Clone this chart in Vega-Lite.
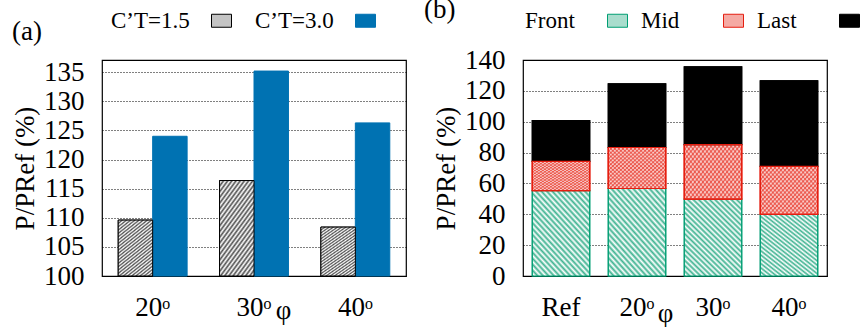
{
 "$schema": "https://vega.github.io/schema/vega-lite/v6.json",
 "padding": {"left": 10, "top": 8, "right": 5, "bottom": 0},
 "background": "white",
 "params": [
  {"name": "gA", "value": {"gradient": "linear", "x1": 0, "y1": 0, "x2": 0.59, "y2": 1.2, "stops": [{"offset":0,"color":"#505050"},{"offset":0.02,"color":"#fff"},{"offset":0.04,"color":"#505050"},{"offset":0.06,"color":"#fff"},{"offset":0.08,"color":"#505050"},{"offset":0.1,"color":"#fff"},{"offset":0.12,"color":"#505050"},{"offset":0.14,"color":"#fff"},{"offset":0.16,"color":"#505050"},{"offset":0.18,"color":"#fff"},{"offset":0.2,"color":"#505050"},{"offset":0.22,"color":"#fff"},{"offset":0.24,"color":"#505050"},{"offset":0.26,"color":"#fff"},{"offset":0.28,"color":"#505050"},{"offset":0.3,"color":"#fff"},{"offset":0.32,"color":"#505050"},{"offset":0.34,"color":"#fff"},{"offset":0.36,"color":"#505050"},{"offset":0.38,"color":"#fff"},{"offset":0.4,"color":"#505050"},{"offset":0.42,"color":"#fff"},{"offset":0.44,"color":"#505050"},{"offset":0.46,"color":"#fff"},{"offset":0.48,"color":"#505050"},{"offset":0.5,"color":"#fff"},{"offset":0.52,"color":"#505050"},{"offset":0.54,"color":"#fff"},{"offset":0.56,"color":"#505050"},{"offset":0.58,"color":"#fff"},{"offset":0.6,"color":"#505050"},{"offset":0.62,"color":"#fff"},{"offset":0.64,"color":"#505050"},{"offset":0.66,"color":"#fff"},{"offset":0.68,"color":"#505050"},{"offset":0.7,"color":"#fff"},{"offset":0.72,"color":"#505050"},{"offset":0.74,"color":"#fff"},{"offset":0.76,"color":"#505050"},{"offset":0.78,"color":"#fff"},{"offset":0.8,"color":"#505050"},{"offset":0.82,"color":"#fff"},{"offset":0.84,"color":"#505050"},{"offset":0.86,"color":"#fff"},{"offset":0.88,"color":"#505050"},{"offset":0.9,"color":"#fff"},{"offset":0.92,"color":"#505050"},{"offset":0.94,"color":"#fff"},{"offset":0.96,"color":"#505050"},{"offset":0.98,"color":"#fff"},{"offset":1,"color":"#505050"}]}},
  {"name": "gG", "value": {"gradient": "linear", "x1": 1, "y1": 0, "x2": 0.176, "y2": 1.128, "stops": [{"offset":0,"color":"#3fb391"},{"offset":0.02,"color":"#fff"},{"offset":0.04,"color":"#3fb391"},{"offset":0.06,"color":"#fff"},{"offset":0.08,"color":"#3fb391"},{"offset":0.1,"color":"#fff"},{"offset":0.12,"color":"#3fb391"},{"offset":0.14,"color":"#fff"},{"offset":0.16,"color":"#3fb391"},{"offset":0.18,"color":"#fff"},{"offset":0.2,"color":"#3fb391"},{"offset":0.22,"color":"#fff"},{"offset":0.24,"color":"#3fb391"},{"offset":0.26,"color":"#fff"},{"offset":0.28,"color":"#3fb391"},{"offset":0.3,"color":"#fff"},{"offset":0.32,"color":"#3fb391"},{"offset":0.34,"color":"#fff"},{"offset":0.36,"color":"#3fb391"},{"offset":0.38,"color":"#fff"},{"offset":0.4,"color":"#3fb391"},{"offset":0.42,"color":"#fff"},{"offset":0.44,"color":"#3fb391"},{"offset":0.46,"color":"#fff"},{"offset":0.48,"color":"#3fb391"},{"offset":0.5,"color":"#fff"},{"offset":0.52,"color":"#3fb391"},{"offset":0.54,"color":"#fff"},{"offset":0.56,"color":"#3fb391"},{"offset":0.58,"color":"#fff"},{"offset":0.6,"color":"#3fb391"},{"offset":0.62,"color":"#fff"},{"offset":0.64,"color":"#3fb391"},{"offset":0.66,"color":"#fff"},{"offset":0.68,"color":"#3fb391"},{"offset":0.7,"color":"#fff"},{"offset":0.72,"color":"#3fb391"},{"offset":0.74,"color":"#fff"},{"offset":0.76,"color":"#3fb391"},{"offset":0.78,"color":"#fff"},{"offset":0.8,"color":"#3fb391"},{"offset":0.82,"color":"#fff"},{"offset":0.84,"color":"#3fb391"},{"offset":0.86,"color":"#fff"},{"offset":0.88,"color":"#3fb391"},{"offset":0.9,"color":"#fff"},{"offset":0.92,"color":"#3fb391"},{"offset":0.94,"color":"#fff"},{"offset":0.96,"color":"#3fb391"},{"offset":0.98,"color":"#fff"},{"offset":1,"color":"#3fb391"}]}},
  {"name": "gR1", "value": {"gradient": "linear", "x1": 1, "y1": 0, "x2": -0.119, "y2": 0.841, "stops": [{"offset":0,"color":"#ef7d74"},{"offset":0.02,"color":"#fff"},{"offset":0.04,"color":"#ef7d74"},{"offset":0.06,"color":"#fff"},{"offset":0.08,"color":"#ef7d74"},{"offset":0.1,"color":"#fff"},{"offset":0.12,"color":"#ef7d74"},{"offset":0.14,"color":"#fff"},{"offset":0.16,"color":"#ef7d74"},{"offset":0.18,"color":"#fff"},{"offset":0.2,"color":"#ef7d74"},{"offset":0.22,"color":"#fff"},{"offset":0.24,"color":"#ef7d74"},{"offset":0.26,"color":"#fff"},{"offset":0.28,"color":"#ef7d74"},{"offset":0.3,"color":"#fff"},{"offset":0.32,"color":"#ef7d74"},{"offset":0.34,"color":"#fff"},{"offset":0.36,"color":"#ef7d74"},{"offset":0.38,"color":"#fff"},{"offset":0.4,"color":"#ef7d74"},{"offset":0.42,"color":"#fff"},{"offset":0.44,"color":"#ef7d74"},{"offset":0.46,"color":"#fff"},{"offset":0.48,"color":"#ef7d74"},{"offset":0.5,"color":"#fff"},{"offset":0.52,"color":"#ef7d74"},{"offset":0.54,"color":"#fff"},{"offset":0.56,"color":"#ef7d74"},{"offset":0.58,"color":"#fff"},{"offset":0.6,"color":"#ef7d74"},{"offset":0.62,"color":"#fff"},{"offset":0.64,"color":"#ef7d74"},{"offset":0.66,"color":"#fff"},{"offset":0.68,"color":"#ef7d74"},{"offset":0.7,"color":"#fff"},{"offset":0.72,"color":"#ef7d74"},{"offset":0.74,"color":"#fff"},{"offset":0.76,"color":"#ef7d74"},{"offset":0.78,"color":"#fff"},{"offset":0.8,"color":"#ef7d74"},{"offset":0.82,"color":"#fff"},{"offset":0.84,"color":"#ef7d74"},{"offset":0.86,"color":"#fff"},{"offset":0.88,"color":"#ef7d74"},{"offset":0.9,"color":"#fff"},{"offset":0.92,"color":"#ef7d74"},{"offset":0.94,"color":"#fff"},{"offset":0.96,"color":"#ef7d74"},{"offset":0.98,"color":"#fff"},{"offset":1,"color":"#ef7d74"}]}},
  {"name": "gR2", "value": {"gradient": "linear", "x1": 0, "y1": 0, "x2": 1.119, "y2": 0.841, "stops": [{"offset":0,"color":"rgba(229,30,16,0.65)"},{"offset":0.02,"color":"rgba(229,30,16,0)"},{"offset":0.04,"color":"rgba(229,30,16,0.65)"},{"offset":0.06,"color":"rgba(229,30,16,0)"},{"offset":0.08,"color":"rgba(229,30,16,0.65)"},{"offset":0.1,"color":"rgba(229,30,16,0)"},{"offset":0.12,"color":"rgba(229,30,16,0.65)"},{"offset":0.14,"color":"rgba(229,30,16,0)"},{"offset":0.16,"color":"rgba(229,30,16,0.65)"},{"offset":0.18,"color":"rgba(229,30,16,0)"},{"offset":0.2,"color":"rgba(229,30,16,0.65)"},{"offset":0.22,"color":"rgba(229,30,16,0)"},{"offset":0.24,"color":"rgba(229,30,16,0.65)"},{"offset":0.26,"color":"rgba(229,30,16,0)"},{"offset":0.28,"color":"rgba(229,30,16,0.65)"},{"offset":0.3,"color":"rgba(229,30,16,0)"},{"offset":0.32,"color":"rgba(229,30,16,0.65)"},{"offset":0.34,"color":"rgba(229,30,16,0)"},{"offset":0.36,"color":"rgba(229,30,16,0.65)"},{"offset":0.38,"color":"rgba(229,30,16,0)"},{"offset":0.4,"color":"rgba(229,30,16,0.65)"},{"offset":0.42,"color":"rgba(229,30,16,0)"},{"offset":0.44,"color":"rgba(229,30,16,0.65)"},{"offset":0.46,"color":"rgba(229,30,16,0)"},{"offset":0.48,"color":"rgba(229,30,16,0.65)"},{"offset":0.5,"color":"rgba(229,30,16,0)"},{"offset":0.52,"color":"rgba(229,30,16,0.65)"},{"offset":0.54,"color":"rgba(229,30,16,0)"},{"offset":0.56,"color":"rgba(229,30,16,0.65)"},{"offset":0.58,"color":"rgba(229,30,16,0)"},{"offset":0.6,"color":"rgba(229,30,16,0.65)"},{"offset":0.62,"color":"rgba(229,30,16,0)"},{"offset":0.64,"color":"rgba(229,30,16,0.65)"},{"offset":0.66,"color":"rgba(229,30,16,0)"},{"offset":0.68,"color":"rgba(229,30,16,0.65)"},{"offset":0.7,"color":"rgba(229,30,16,0)"},{"offset":0.72,"color":"rgba(229,30,16,0.65)"},{"offset":0.74,"color":"rgba(229,30,16,0)"},{"offset":0.76,"color":"rgba(229,30,16,0.65)"},{"offset":0.78,"color":"rgba(229,30,16,0)"},{"offset":0.8,"color":"rgba(229,30,16,0.65)"},{"offset":0.82,"color":"rgba(229,30,16,0)"},{"offset":0.84,"color":"rgba(229,30,16,0.65)"},{"offset":0.86,"color":"rgba(229,30,16,0)"},{"offset":0.88,"color":"rgba(229,30,16,0.65)"},{"offset":0.9,"color":"rgba(229,30,16,0)"},{"offset":0.92,"color":"rgba(229,30,16,0.65)"},{"offset":0.94,"color":"rgba(229,30,16,0)"},{"offset":0.96,"color":"rgba(229,30,16,0.65)"},{"offset":0.98,"color":"rgba(229,30,16,0)"},{"offset":1,"color":"rgba(229,30,16,0.65)"}]}}
 ],
 "spacing": 16,
 "resolve": {"scale": {"stroke": "independent", "fill": "independent"}, "legend": {"stroke": "independent", "fill": "independent"}},
 "hconcat": [
  {
   "width": 304, "height": 216,
   "data": {"values": [
    {"ang": "20", "ct": "1.5", "v": 109.6},
    {"ang": "20", "ct": "3.0", "v": 124.0},
    {"ang": "30", "ct": "1.5", "v": 116.4},
    {"ang": "30", "ct": "3.0", "v": 135.2},
    {"ang": "40", "ct": "1.5", "v": 108.4},
    {"ang": "40", "ct": "3.0", "v": 126.3}
   ]},
   "encoding": {
    "x": {"field": "ang", "type": "nominal", "scale": {"paddingInner": 0.32, "paddingOuter": 0.16},
          "axis": {"title": "φ", "titleX": 181, "titleY": 42, "titleAlign": "center", "titleBaseline": "alphabetic", "titleAngle": 0, "labelExpr": "datum.label + 'ᵒ'", "labelAngle": 0, "labelBaseline": "alphabetic", "labelPadding": 39, "ticks": false, "tickSize": 0, "domain": false, "grid": false}},
    "xOffset": {"field": "ct", "type": "nominal"},
    "y": {"field": "v", "type": "quantitative", "scale": {"domain": [100, 137.1], "nice": false, "zero": false},
          "axis": {"title": "P/PRef (%)", "values": [100, 105, 110, 115, 120, 125, 130, 135], "labelOverlap": false, "grid": true, "ticks": false, "tickSize": 0, "domain": false, "labelPadding": 18, "titleX": -77, "titleY": 108, "titleAngle": 270, "titleAlign": "center", "titleBaseline": "middle"}},
    "y2": {"datum": 100}
   },
   "layer": [
    {
     "mark": {"type": "bar", "strokeWidth": 1},
     "encoding": {
      "fill": {"field": "ct", "type": "nominal", "scale": {"domain": ["1.5", "3.0"], "range": ["#c4c4c4", "#0072b2"]},
               "legend": {"title": "(a)", "titleOrient": "left", "titleFontSize": 27, "titleFont": "Liberation Serif", "titleFontWeight": "normal", "titleColor": "black", "titlePadding": 168, "titleBaseline": "top", "orient": "none", "legendX": -90, "legendY": -51, "direction": "horizontal", "columns": 2, "columnPadding": 21, "padding": 0, "symbolType": "M-1,-0.65H1V0.65H-1Z", "symbolSize": 400, "symbolStrokeWidth": 1, "symbolOpacity": 1, "labelAlign": "left", "labelOffset": -122, "labelExpr": "'C’T=' + datum.label", "labelFontSize": 23,
                          "encode": {"title": {"update": {"dy": {"value": -2}}}}}},
      "stroke": {"field": "ct", "type": "nominal", "scale": {"domain": ["1.5", "3.0"], "range": ["black", "#0072b2"]}}
     }
    },
    {
     "transform": [{"filter": "datum.ct === '1.5'"}],
     "mark": {"type": "bar", "fill": {"expr": "gA"}, "stroke": "black", "strokeWidth": 1}
    }
   ]
  },
  {
   "width": 304, "height": 216,
   "data": {"values": [
    {"cat": "Ref", "part": "Front", "v": 55.4},
    {"cat": "Ref", "part": "Mid", "v": 18.9},
    {"cat": "Ref", "part": "Last", "v": 26.4},
    {"cat": "20", "part": "Front", "v": 56.7},
    {"cat": "20", "part": "Mid", "v": 26.6},
    {"cat": "20", "part": "Last", "v": 41.2},
    {"cat": "30", "part": "Front", "v": 49.8},
    {"cat": "30", "part": "Mid", "v": 35.4},
    {"cat": "30", "part": "Last", "v": 50.3},
    {"cat": "40", "part": "Front", "v": 40.0},
    {"cat": "40", "part": "Mid", "v": 31.1},
    {"cat": "40", "part": "Last", "v": 55.4}
   ]},
   "transform": [{"stack": "v", "groupby": ["cat"], "as": ["v0", "v1"]}],
   "encoding": {
    "x": {"field": "cat", "type": "nominal", "sort": ["Ref", "20", "30", "40"], "scale": {"paddingInner": 0.245, "paddingOuter": 0.1225},
          "axis": {"title": "φ", "titleX": 142, "titleY": 45, "titleAlign": "center", "titleBaseline": "alphabetic", "titleAngle": 0, "labelExpr": "datum.label === 'Ref' ? 'Ref' : datum.label + 'ᵒ'", "labelAngle": 0, "labelBaseline": "alphabetic", "labelPadding": 39, "ticks": false, "tickSize": 0, "domain": false, "grid": false}},
    "y": {"field": "v1", "type": "quantitative", "scale": {"domain": [0, 140], "nice": false},
          "axis": {"title": "P/PRef (%)", "values": [0, 20, 40, 60, 80, 100, 120, 140], "labelOverlap": false, "grid": true, "ticks": false, "tickSize": 0, "domain": false, "labelPadding": 18, "titleX": -77, "titleY": 108, "titleAngle": 270, "titleAlign": "center", "titleBaseline": "middle"}},
    "y2": {"field": "v0"}
   },
   "layer": [
    {
     "mark": {"type": "bar", "strokeWidth": 1.2},
     "encoding": {
      "fill": {"field": "part", "type": "nominal", "scale": {"domain": ["Front", "Mid", "Last"], "range": ["#a9ddcd", "#f5aaa4", "black"]},
               "legend": {"title": "(b)", "titleOrient": "left", "titleFontSize": 27, "titleFont": "Liberation Serif", "titleFontWeight": "normal", "titleColor": "black", "titlePadding": 150, "titleBaseline": "top", "orient": "none", "legendX": -99, "legendY": -51, "direction": "horizontal", "columns": 3, "columnPadding": 11, "padding": 0, "symbolType": "M-1,-0.65H1V0.65H-1Z", "symbolSize": 400, "symbolStrokeWidth": 1, "symbolOpacity": 1, "labelAlign": "left", "labelOffset": -104, "labelFontSize": 23,
                          "encode": {"title": {"update": {"dy": {"value": -24}}}}}},
      "stroke": {"field": "part", "type": "nominal", "scale": {"domain": ["Front", "Mid", "Last"], "range": ["#009e73", "#e51e10", "black"]}}
     }
    },
    {
     "mark": {"type": "bar", "strokeWidth": 1.2},
     "encoding": {
      "fill": {"condition": [{"test": "datum.part === 'Front'", "value": {"expr": "gG"}}, {"test": "datum.part === 'Mid'", "value": {"expr": "gR1"}}], "value": "black"},
      "stroke": {"condition": [{"test": "datum.part === 'Front'", "value": "#009e73"}, {"test": "datum.part === 'Mid'", "value": "#e51e10"}], "value": "black"}
     }
    },
    {
     "transform": [{"filter": "datum.part === 'Mid'"}],
     "mark": {"type": "bar", "fill": {"expr": "gR2"}, "stroke": "#e51e10", "strokeWidth": 1.2}
    }
   ]
  }
 ],
 "config": {
  "font": "Liberation Serif",
  "view": {"stroke": "black", "strokeWidth": 1.2},
  "axis": {"labelFont": "Liberation Serif", "labelFontSize": 27, "labelColor": "black", "labelOverlap": false, "titleFont": "Liberation Serif", "titleFontSize": 27, "titleFontWeight": "normal", "titleColor": "black", "gridColor": "black", "gridDash": [1, 2], "gridWidth": 1, "gridOpacity": 1, "tickColor": "black", "tickWidth": 1},
  "legend": {"labelFont": "Liberation Serif", "labelFontSize": 23, "labelColor": "black"}
 }
}
